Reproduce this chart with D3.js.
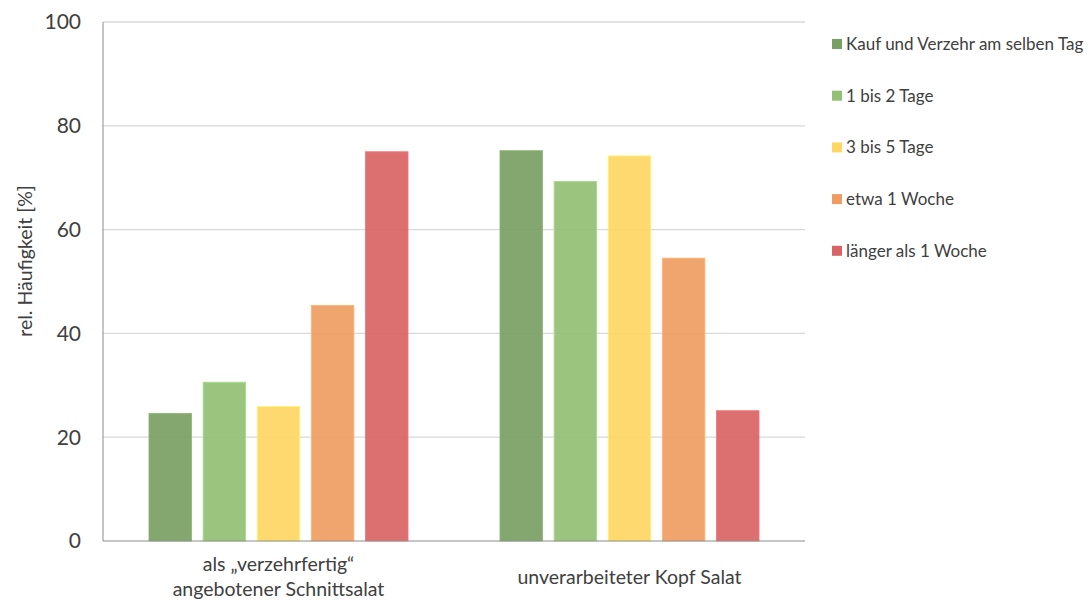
<!DOCTYPE html>
<html><head><meta charset="utf-8">
<script src="https://cdn.jsdelivr.net/npm/d3@7"></script>
<style>body{margin:0;background:#fff}svg{display:block}text{font-family:Lato,"Open Sans",sans-serif;fill:#404040}</style>
</head><body>
<svg id="c" width="1091" height="601"></svg>
<script>
const categories = [["als „verzehrfertig“","angebotener Schnittsalat"],["unverarbeiteter Kopf Salat"]];
const series = ["Kauf und Verzehr am selben Tag","1 bis 2 Tage","3 bis 5 Tage","etwa 1 Woche","länger als 1 Woche"];
const colors = ["#7a9f63","#92c074","#fdd663","#ef9c62","#d96465"];
const valuesSchnitt = [24.6, 30.6, 25.9, 45.4, 75.0];
const valuesKopf = [75.2, 69.3, 74.2, 54.5, 25.1];
const yTicks = [0,20,40,60,80,100];
const yTitle = "rel. Häufigkeit [%]";

const svg = d3.select("#c");
const L=103, R=805, T=22, B=541;
const y = d3.scaleLinear().domain([0,100]).range([B,T]);
const x0 = d3.scaleBand().domain([0,1]).range([L,R]).paddingInner(0.262).paddingOuter(0.131);
const x1 = d3.scaleBand().domain(d3.range(series.length)).range([0,x0.bandwidth()]).paddingInner(0.213).paddingOuter(0);
const data = [valuesSchnitt, valuesKopf];

// grid
svg.append("g").selectAll("line").data(yTicks.filter(d=>d>0)).join("line")
  .attr("x1",L).attr("x2",R).attr("y1",d=>y(d)).attr("y2",d=>y(d))
  .attr("stroke","#d9d9d9").attr("stroke-width",1.3);

// bars
const g = svg.append("g");
data.forEach((vals,ci)=>{
  g.append("g").selectAll("rect").data(vals).join("rect")
    .attr("x",(d,i)=>x0(ci)+x1(i)).attr("width",x1.bandwidth())
    .attr("y",d=>y(d)).attr("height",d=>B-y(d))
    .attr("fill",(d,i)=>colors[i]).attr("fill-opacity",0.92)
    .attr("stroke",(d,i)=>d3.color(colors[i]).brighter(0.4)).attr("stroke-width",0.8);
});

// axes lines
svg.append("line").attr("x1",L).attr("x2",L).attr("y1",T).attr("y2",B).attr("stroke","#8c8c8c").attr("stroke-width",1);
svg.append("line").attr("x1",L).attr("x2",R).attr("y1",B).attr("y2",B).attr("stroke","#8c8c8c").attr("stroke-width",1.2);

// y tick labels
svg.append("g").selectAll("text").data(yTicks).join("text")
  .attr("x",81).attr("y",d=>y(d)).attr("dy","0.35em").attr("text-anchor","end")
  .style("font-size","21px").text(d=>d);

// y title
svg.append("text").attr("transform","translate(25,261) rotate(-90)")
  .attr("text-anchor","middle").attr("dy","0.35em").style("font-size","19.5px").text(yTitle);

// category labels
categories.forEach((lines,ci)=>{
  const cx = x0(ci)+x0.bandwidth()/2;
  const t = svg.append("text").attr("text-anchor","middle").style("font-size","19.5px");
  const y0 = lines.length===1 ? 577 : 564;
  lines.forEach((s,k)=>t.append("tspan").attr("x",cx).attr("y",y0+k*25).attr("dy","0.35em").text(s));
});

// legend
const lg = svg.append("g");
series.forEach((s,i)=>{
  const yy = 44 + i*51.7;
  lg.append("rect").attr("x",832).attr("y",yy-5).attr("width",10).attr("height",10).attr("fill",colors[i]);
  lg.append("text").attr("x",846).attr("y",yy).attr("dy","0.35em").style("font-size","17px").text(s);
});
</script>
</body></html>
